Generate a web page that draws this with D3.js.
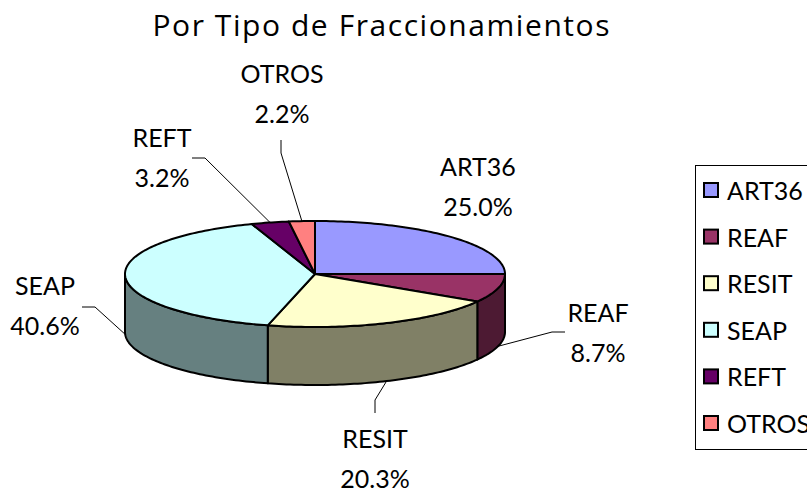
<!DOCTYPE html>
<html>
<head>
<meta charset="utf-8">
<script src="https://cdn.jsdelivr.net/npm/d3@7"></script>
<style>
  body { margin: 0; background: #fff; }
  text { font-family: Lato, "Liberation Sans", sans-serif; fill: #000; }
</style>
</head>
<body>
<div id="chart"></div>
<script>
// data
var categories = ["ART36", "REAF", "RESIT", "SEAP", "REFT", "OTROS"];
var shares = [25.0, 8.7, 20.3, 40.6, 3.2, 2.2];
var topColors = ["#9999FF", "#993366", "#FFFFCC", "#CCFFFF", "#660066", "#FF8080"];
var chartTitle = "Por Tipo de Fraccionamientos";

var width = 807, height = 493;

// pie geometry (3D ellipse)
var cx = 315, cy = 274, rx = 190, ry = 53, depth = 58;

// where excel placed each label (center x, first baseline) and the little elbow of its leader
var labelLayout = [
    {x: 478, y: 176, stub: null},
    {x: 598, y: 322, stub: [[-33, 10], [-46, 10]]},
    {x: 375, y: 448, stub: [[0, -35], [0, -48]]},
    {x: 45,  y: 295, stub: [[37, 12], [50, 12]]},
    {x: 162, y: 147, stub: [[30, 11], [43, 11]]},
    {x: 282, y: 83,  stub: [[-1, 57], [-1, 70]]}
];

var svg = d3.select("#chart").append("svg")
    .attr("width", width)
    .attr("height", height);

// point on the top ellipse, angle clockwise from 12 o'clock
function ept(a, dy) {
    return [cx + rx * Math.sin(a), cy - ry * Math.cos(a) + (dy || 0)];
}

function arcPoints(a0, a1, dy) {
    var n = Math.max(2, Math.ceil((a1 - a0) / 0.02));
    return d3.range(n + 1).map(function(i) { return ept(a0 + (a1 - a0) * i / n, dy); });
}

// excel shades the walls at half the slice colour
function sideColor(c) {
    var r = d3.rgb(c);
    return d3.rgb(r.r / 2, r.g / 2, r.b / 2);
}

var pie = d3.pie().sort(null).value(function(d) { return d; });
var arcs = pie(shares);

var line = d3.line();
var g = svg.append("g");

// sides first (only the front half shows)
arcs.forEach(function(d, i) {
    var a0 = Math.max(d.startAngle, Math.PI / 2);
    var a1 = Math.min(d.endAngle, 3 * Math.PI / 2);
    if (a1 <= a0) return;
    var pts = arcPoints(a0, a1, 0).concat(arcPoints(a0, a1, depth).reverse());
    g.append("path")
        .attr("d", line(pts) + "Z")
        .attr("fill", sideColor(topColors[i]))
        .attr("stroke", "#000")
        .attr("stroke-width", 2)
        .attr("stroke-linejoin", "round");
});

// top faces
arcs.forEach(function(d, i) {
    var pts = [[cx, cy]].concat(arcPoints(d.startAngle, d.endAngle, 0));
    g.append("path")
        .attr("d", line(pts) + "Z")
        .attr("fill", topColors[i])
        .attr("stroke", "#000")
        .attr("stroke-width", 2)
        .attr("stroke-linejoin", "round");
});

// labels + leader lines
arcs.forEach(function(d, i) {
    var lay = labelLayout[i];
    var t = svg.append("text")
        .attr("text-anchor", "middle")
        .style("font-size", "25px");
    t.append("tspan").attr("x", lay.x).attr("y", lay.y).text(categories[i]);
    t.append("tspan").attr("x", lay.x).attr("y", lay.y + 40).text(d3.format(".1f")(shares[i]) + "%");

    if (lay.stub) {
        var mid = (d.startAngle + d.endAngle) / 2;
        var front = mid > Math.PI / 2 && mid < 3 * Math.PI / 2;
        var edge = ept(mid, front ? depth : 0);
        var pts = lay.stub.map(function(p) { return [lay.x + p[0], lay.y + p[1]]; });
        pts.push(edge);
        svg.append("path")
            .attr("d", line(pts))
            .attr("fill", "none")
            .attr("stroke", "#000")
            .attr("stroke-width", 1);
    }
});

// title
svg.append("text")
    .attr("x", 381)
    .attr("y", 36)
    .attr("text-anchor", "middle")
    .attr("textLength", 457)
    .attr("lengthAdjust", "spacing")
    .style("font-family", "'Open Sans', sans-serif")
    .style("font-size", "30px")
    .text(chartTitle);

// legend (runs off the right edge like the original)
var legend = svg.append("g");
legend.append("rect")
    .attr("x", 695.5)
    .attr("y", 165.5)
    .attr("width", 140)
    .attr("height", 284)
    .attr("fill", "#fff")
    .attr("stroke", "#000")
    .attr("stroke-width", 1);

var rowY = d3.scalePoint().domain(categories).range([200, 433]);

categories.forEach(function(c, i) {
    var y = rowY(c);
    legend.append("rect")
        .attr("x", 704)
        .attr("y", y - 17)
        .attr("width", 14)
        .attr("height", 14)
        .attr("fill", topColors[i])
        .attr("stroke", "#000")
        .attr("stroke-width", 2);
    legend.append("text")
        .attr("x", 727)
        .attr("y", y)
        .style("font-size", "25px")
        .text(c);
});
</script>
</body>
</html>
